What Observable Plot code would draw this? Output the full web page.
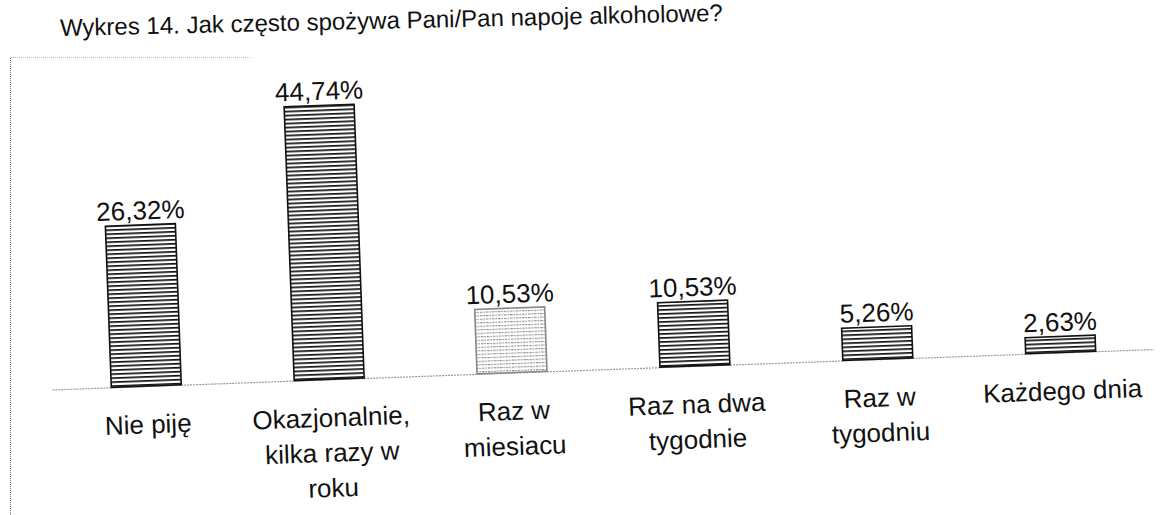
<!DOCTYPE html>
<html><head><meta charset="utf-8">
<script src="https://cdn.jsdelivr.net/npm/d3@7"></script>
<script src="https://cdn.jsdelivr.net/npm/@observablehq/plot@0.6"></script>
<style>
html,body{margin:0;padding:0;background:#fff;width:1164px;height:515px;overflow:hidden;font-family:"Liberation Sans",Arial,sans-serif;}
#wrap{position:relative;width:1164px;height:515px;}
#title{position:absolute;left:60px;top:15px;font-size:24px;color:#111;transform:rotate(-1.3deg);transform-origin:0 50%;white-space:nowrap;line-height:26px;}
#frameLeft{position:absolute;left:10px;top:57px;width:0;height:470px;border-left:1px dotted #777;}
#frameTop{position:absolute;left:10px;top:57px;width:240px;height:0;border-top:1px dotted #bbb;}
#chart{position:absolute;left:0;top:56px;width:1164px;height:465px;transform:rotate(-2.1deg);transform-origin:50% 50%;}
</style></head>
<body><div id="wrap"><div id="frameLeft"></div><div id="frameTop"></div><div id="title">Wykres 14. Jak często spożywa Pani/Pan napoje alkoholowe?</div><div id="chart"></div></div>
<script>
const categories = ["Nie piję", "Okazjonalnie, kilka razy w roku", "Raz w miesiacu", "Raz na dwa tygodnie", "Raz w tygodniu", "Każdego dnia"];
const values = [26.32, 44.74, 10.53, 10.53, 5.26, 2.63];
const valueLabels = ["26,32%", "44,74%", "10,53%", "10,53%", "5,26%", "2,63%"];
const tickLabels = ["Nie piję", "Okazjonalnie,\nkilka razy w\nroku", "Raz w\nmiesiacu", "Raz na dwa\ntygodnie", "Raz w\ntygodniu", "Każdego dnia"];

const data = categories.map((c, i) => ({category: c, value: values[i], label: valueLabels[i]}));
const isLight = d => d.category === "Raz w miesiacu";

const plot = Plot.plot({
  width: 1164,
  height: 465,
  marginLeft: 49,
  marginRight: 13,
  marginTop: 40,
  marginBottom: 151,
  style: {fontFamily: "'Liberation Sans', Arial, sans-serif", color: "#111", background: "transparent", overflow: "visible"},
  x: {domain: categories, paddingInner: 0.62, paddingOuter: 0.31},
  y: {domain: [0, 44.74], axis: null},
  marks: [
    Plot.ruleY([0], {stroke: "#999", strokeDasharray: "2,1", strokeWidth: 1.2}),
    Plot.barY(data, {
      x: "category", y: "value",
      fill: d => isLight(d) ? "url(#stripesLight)" : "url(#stripesDark)",
      stroke: d => isLight(d) ? "#888" : "#111",
      strokeDasharray: d => isLight(d) ? "1.5,1" : null,
      strokeWidth: 1.6
    }),
    Plot.text(data, {x: "category", y: "value", text: "label", lineAnchor: "bottom", dy: -6, fontSize: 26, fill: "#111"}),
    Plot.axisX({tickSize: 0, tickPadding: 22, fontSize: 26, lineHeight: 1.35, label: null,
      tickFormat: d => tickLabels[categories.indexOf(d)], fill: "#111"})
  ]
});

const ns = "http://www.w3.org/2000/svg";
const defs = document.createElementNS(ns, "defs");
defs.innerHTML = `
<pattern id="stripesDark" patternUnits="userSpaceOnUse" width="8" height="4">
  <rect width="8" height="4" fill="#fff"/>
  <rect y="0" width="8" height="1.7" fill="#111"/>
</pattern>
<pattern id="stripesLight" patternUnits="userSpaceOnUse" width="6" height="3.5">
  <rect width="6" height="3.5" fill="#fff"/>
  <line x1="0" y1="0.6" x2="6" y2="0.6" stroke="#888" stroke-width="1" stroke-dasharray="1.5,1"/>
</pattern>`;
plot.insertBefore(defs, plot.firstChild);
document.getElementById("chart").appendChild(plot);
</script>
</body></html>
